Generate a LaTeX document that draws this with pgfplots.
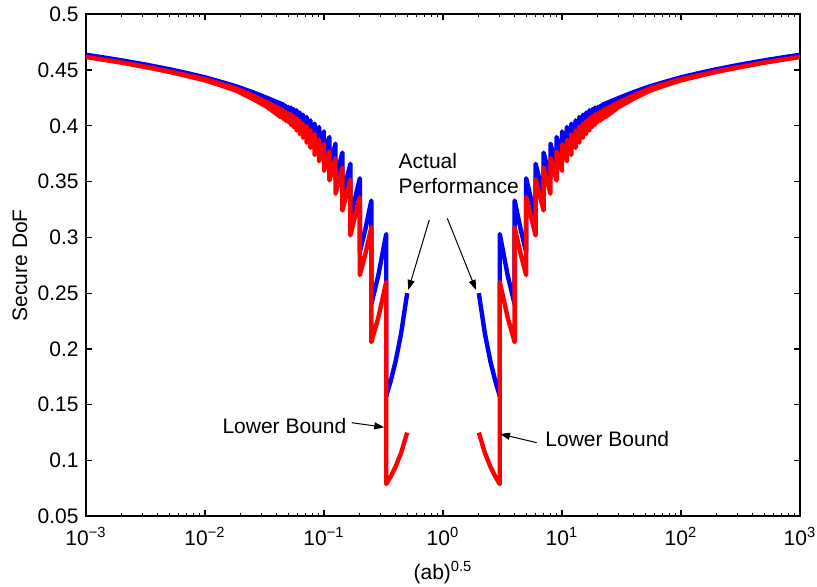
\documentclass[border=0pt]{standalone}
\usepackage{fontspec}
\setmainfont{Liberation Sans}
\usepackage{pgfplots}
\pgfplotsset{compat=1.18}
\usetikzlibrary{arrows.meta}

\begin{document}
\fontsize{10.5}{12.6}\selectfont
\begin{tikzpicture}
\path[use as bounding box] (-43pt,-35pt) rectangle (365.5pt,258.15pt);
\begin{axis}[
    at={(0,0)}, anchor=south west,
    width=357pt, height=251pt, scale only axis,
    xmode=log,
    xmin=1e-3, xmax=1e3,
    ymin=0.05, ymax=0.5,
    xtick={1e-3,1e-2,1e-1,1,1e1,1e2,1e3},
    xticklabels={10\textsuperscript{−3},10\textsuperscript{−2},10\textsuperscript{−1},10\textsuperscript{0},10\textsuperscript{1},10\textsuperscript{2},10\textsuperscript{3}},
    xticklabel style={yshift=-2pt},
    ytick={0.05,0.1,0.15,0.2,0.25,0.3,0.35,0.4,0.45,0.5},
    yticklabel style={/pgf/number format/fixed, /pgf/number format/precision=2,
        /pgf/number format/assume math mode=true},
    xlabel={(ab)\textsuperscript{0.5}},
    xlabel style={yshift=-0.5pt},
    ylabel={Secure DoF},
    ylabel style={yshift=-2pt},
    major tick length=3pt, minor tick length=1.5pt,
    tick style={black, line width=0.6pt},
    axis line style={line width=0.8pt},
    curve/.style={no marks, line width=2.2pt, line join=round},
]
% actual performance, x >= 2
\addplot[curve, blue] coordinates {
    (2,0.2500) (2.25,0.2137) (2.5,0.1891) (2.75,0.1713) (3,0.1577)
    (3,0.3030) (3.5,0.2657) (4,0.2401)
    (4,0.3330) (4.5,0.3069) (5,0.2868)
    (5,0.3530) (6,0.3171)
    (6,0.3660) (7,0.3370)
    (7,0.3760) (8,0.3519)
    (8,0.3840) (9,0.3634)
    (9,0.3900) (10,0.3721)
    (10,0.3950) (11,0.3793)
    (11,0.3990) (12,0.3850)
    (12,0.4020) (13,0.3895)
    (13,0.4050) (14,0.3936)
    (14,0.4080) (15,0.3976)
    (15,0.4100) (16,0.4004)
    (16,0.4120) (17,0.4032)
    (17,0.4140) (18,0.4058)
    (18,0.4150) (19,0.4074)
    (19,0.4165) (20,0.4094)
    (20,0.4170) (21,0.4103)
    (21,0.4180) (22,0.4117)
    (22,0.4190) (23,0.4131)
};
\addplot[curve, blue, fill=blue] coordinates {
    (22,0.4190) (30,0.4250) (40,0.4303) (55,0.4355) (70,0.4388) (100,0.4435)
    (150,0.4479) (200,0.4508) (300,0.4545) (500,0.4587) (700,0.4612) (1000,0.4637)
    (1000,0.4637) (700,0.4611) (500,0.4586) (300,0.4542) (200,0.4504) (150,0.4473)
    (100,0.4425) (70,0.4373) (55,0.4335) (40,0.4274) (30,0.4208) (23,0.4131)
} -- cycle;
% actual performance, x <= 1/2
\addplot[curve, blue] coordinates {
    (0.043478,0.4131) (0.045455,0.4190)
    (0.045455,0.4117) (0.047619,0.4180)
    (0.047619,0.4103) (0.05,0.4170)
    (0.05,0.4094) (0.052632,0.4165)
    (0.052632,0.4074) (0.055556,0.4150)
    (0.055556,0.4058) (0.058824,0.4140)
    (0.058824,0.4032) (0.0625,0.4120)
    (0.0625,0.4004) (0.066667,0.4100)
    (0.066667,0.3976) (0.071429,0.4080)
    (0.071429,0.3936) (0.076923,0.4050)
    (0.076923,0.3895) (0.083333,0.4020)
    (0.083333,0.3850) (0.090909,0.3990)
    (0.090909,0.3793) (0.1,0.3950)
    (0.1,0.3721) (0.11111,0.3900)
    (0.11111,0.3634) (0.125,0.3840)
    (0.125,0.3519) (0.14286,0.3760)
    (0.14286,0.3370) (0.16667,0.3660)
    (0.16667,0.3171) (0.2,0.3530)
    (0.2,0.2868) (0.22222,0.3069) (0.25,0.3330)
    (0.25,0.2401) (0.28571,0.2657) (0.33333,0.3030)
    (0.33333,0.1577) (0.36364,0.1713) (0.4,0.1891) (0.44444,0.2137) (0.5,0.2500)
};
\addplot[curve, blue, fill=blue] coordinates {
    (0.001,0.4637) (0.0014286,0.4612) (0.002,0.4587) (0.0033333,0.4545) (0.005,0.4508)
    (0.0066667,0.4479) (0.01,0.4435) (0.014286,0.4388) (0.018182,0.4355) (0.025,0.4303)
    (0.033333,0.4250) (0.045455,0.4190)
    (0.043478,0.4131) (0.033333,0.4208) (0.025,0.4274) (0.018182,0.4335) (0.014286,0.4373)
    (0.01,0.4425) (0.0066667,0.4473) (0.005,0.4504) (0.0033333,0.4542) (0.002,0.4586)
    (0.0014286,0.4611) (0.001,0.4637)
} -- cycle;
% lower bound, x >= 2
\addplot[curve, red] coordinates {
    (2,0.1250) (2.25,0.1068) (2.5,0.0946) (2.75,0.0856) (3,0.0789)
    (3,0.2600) (3.5,0.2280) (4,0.2061)
    (4,0.3090) (4.5,0.2848) (5,0.2662)
    (5,0.3360) (6,0.3018)
    (6,0.3520) (7,0.3241)
    (7,0.3625) (8,0.3392)
    (8,0.3710) (9,0.3511)
    (9,0.3770) (10,0.3597)
    (10,0.3835) (11,0.3683)
    (11,0.3875) (12,0.3739)
    (12,0.3925) (13,0.3803)
    (13,0.3960) (14,0.3849)
    (14,0.3995) (15,0.3893)
    (15,0.4020) (16,0.3926)
    (16,0.4045) (17,0.3958)
    (17,0.4070) (18,0.3989)
    (18,0.4085) (19,0.4010)
    (19,0.4105) (20,0.4035)
    (20,0.4112) (21,0.4046)
    (21,0.4124) (22,0.4062)
    (22,0.4136) (23,0.4077)
};
\addplot[curve, red, fill=red] coordinates {
    (22,0.4136) (30,0.4210) (40,0.4273) (55,0.4335) (70,0.4370) (100,0.4418)
    (150,0.4459) (200,0.4488) (300,0.4525) (500,0.4567) (700,0.4592) (1000,0.4617)
    (1000,0.4617) (700,0.4591) (500,0.4566) (300,0.4522) (200,0.4484) (150,0.4453)
    (100,0.4408) (70,0.4355) (55,0.4316) (40,0.4244) (30,0.4169) (23,0.4077)
} -- cycle;
% lower bound, x <= 1/2
\addplot[curve, red] coordinates {
    (0.043478,0.4077) (0.045455,0.4136)
    (0.045455,0.4062) (0.047619,0.4124)
    (0.047619,0.4046) (0.05,0.4112)
    (0.05,0.4035) (0.052632,0.4105)
    (0.052632,0.4010) (0.055556,0.4085)
    (0.055556,0.3989) (0.058824,0.4070)
    (0.058824,0.3958) (0.0625,0.4045)
    (0.0625,0.3926) (0.066667,0.4020)
    (0.066667,0.3893) (0.071429,0.3995)
    (0.071429,0.3849) (0.076923,0.3960)
    (0.076923,0.3803) (0.083333,0.3925)
    (0.083333,0.3739) (0.090909,0.3875)
    (0.090909,0.3683) (0.1,0.3835)
    (0.1,0.3597) (0.11111,0.3770)
    (0.11111,0.3511) (0.125,0.3710)
    (0.125,0.3392) (0.14286,0.3625)
    (0.14286,0.3241) (0.16667,0.3520)
    (0.16667,0.3018) (0.2,0.3360)
    (0.2,0.2662) (0.22222,0.2848) (0.25,0.3090)
    (0.25,0.2061) (0.28571,0.2280) (0.33333,0.2600)
    (0.33333,0.0789) (0.36364,0.0856) (0.4,0.0946) (0.44444,0.1068) (0.5,0.1250)
};
\addplot[curve, red, fill=red] coordinates {
    (0.001,0.4617) (0.0014286,0.4592) (0.002,0.4567) (0.0033333,0.4525) (0.005,0.4488)
    (0.0066667,0.4459) (0.01,0.4418) (0.014286,0.4370) (0.018182,0.4335) (0.025,0.4273)
    (0.033333,0.4210) (0.045455,0.4136)
    (0.043478,0.4077) (0.033333,0.4169) (0.025,0.4244) (0.018182,0.4316) (0.014286,0.4355)
    (0.01,0.4408) (0.0066667,0.4453) (0.005,0.4484) (0.0033333,0.4522) (0.002,0.4566)
    (0.0014286,0.4591) (0.001,0.4617)
} -- cycle;

% annotations
\node[anchor=base west, inner sep=0pt] at (axis cs:0.421,0.3621) {Actual};
\node[anchor=base west, inner sep=0pt] at (axis cs:0.421,0.3396) {Performance};
\draw[line width=0.5pt, -{Triangle[length=5pt,width=3.5pt]}] (axis cs:0.767,0.3156) -- (axis cs:0.511,0.2529);
\draw[line width=0.5pt, -{Triangle[length=5pt,width=3.5pt]}] (axis cs:1.087,0.3171) -- (axis cs:1.894,0.2529);
\node[anchor=base east, inner sep=0pt] at (axis cs:0.1551,0.1244) {Lower Bound};
\draw[line width=0.5pt, -{Triangle[length=5pt,width=3.5pt]}] (axis cs:0.1709,0.1339) -- (axis cs:0.3211,0.1298);
\node[anchor=base west, inner sep=0pt] at (axis cs:7.20,0.1124) {Lower Bound};
\draw[line width=0.5pt, -{Triangle[length=5pt,width=3.5pt]}] (axis cs:6.13,0.1160) -- (axis cs:3.013,0.1238);
\end{axis}
\end{tikzpicture}
\end{document}
